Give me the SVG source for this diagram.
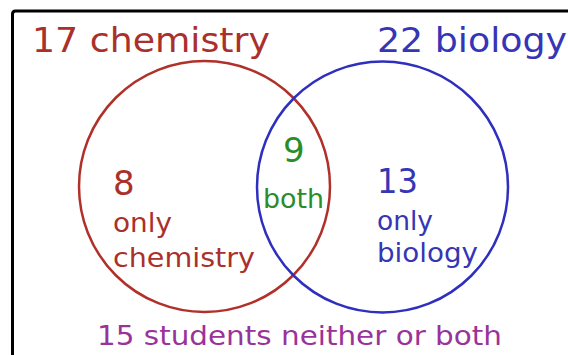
<svg xmlns="http://www.w3.org/2000/svg" width="568" height="355" viewBox="0 0 568 355">
<style>
text{font-family:"DejaVu Sans",Verdana,sans-serif}
.big{font-size:34px}
.sm{font-size:27px}
.red{fill:#aa302c}
.blue{fill:#3535b5}
.green{fill:#2a8c2a}
.purple{fill:#993399}
.circ{fill:none;stroke-width:2.5}
</style>
<rect width="568" height="355" fill="#ffffff"/>
<g id="frame">
<path d="M12.5 358 V14 Q12.5 11 15.5 11 H572" fill="none" stroke="#000" stroke-width="3"/>
</g>
<g id="chemistry">
<circle class="circ" cx="204.5" cy="186.5" r="125.5" stroke="#b0302a"/>
<text class="big red" x="32" y="52" textLength="238" lengthAdjust="spacingAndGlyphs">17 chemistry</text>
<text class="big red" x="113" y="195">8</text>
<text class="sm red" x="113" y="232" textLength="59" lengthAdjust="spacingAndGlyphs">only</text>
<text class="sm red" x="113" y="267" textLength="142" lengthAdjust="spacingAndGlyphs">chemistry</text>
</g>
<g id="biology">
<circle class="circ" cx="382.5" cy="187" r="125.5" stroke="#2f2fbf"/>
<text class="big blue" x="377" y="52" textLength="190" lengthAdjust="spacingAndGlyphs">22 biology</text>
<text class="big blue" x="377" y="193" textLength="41" lengthAdjust="spacingAndGlyphs">13</text>
<text class="sm blue" x="377" y="230" textLength="56" lengthAdjust="spacingAndGlyphs">only</text>
<text class="sm blue" x="377" y="262" textLength="101" lengthAdjust="spacingAndGlyphs">biology</text>
</g>
<g id="both">
<text class="big green" x="283" y="162">9</text>
<text class="sm green" x="263" y="208" textLength="61" lengthAdjust="spacingAndGlyphs">both</text>
</g>
<g id="neither">
<text class="sm purple" x="97" y="345" textLength="405" lengthAdjust="spacingAndGlyphs">15 students neither or both</text>
</g>
</svg>
